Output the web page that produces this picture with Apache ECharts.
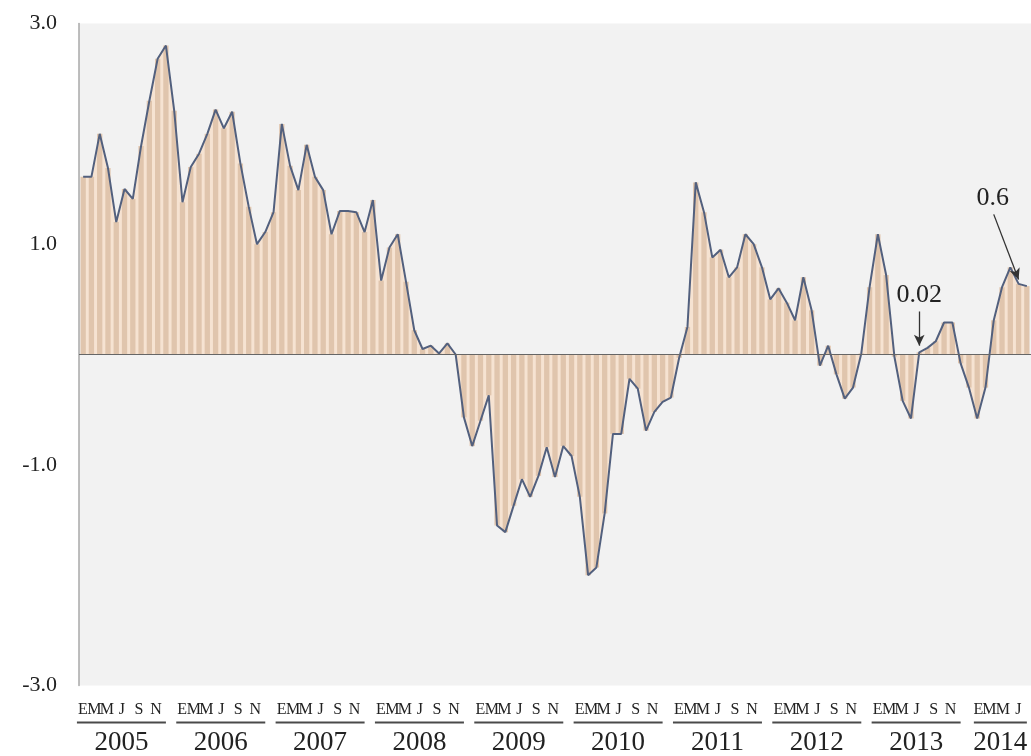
<!DOCTYPE html>
<html><head><meta charset="utf-8">
<script src="https://cdn.jsdelivr.net/npm/echarts@6/dist/echarts.min.js"></script>
<style>html,body{margin:0;padding:0;background:#fff}#c{width:1031px;height:756px}</style>
</head><body><div id="c"></div>
<script>
// ---- data ----
const years = ['2005','2006','2007','2008','2009','2010','2011','2012','2013','2014'];
const monthTickLetters = ['E','M','M','J','S','N'];
const yTicks = [-3, -1, 1, 3];
const v2005 = [1.61, 1.61, 2.00, 1.69, 1.20, 1.50, 1.41, 1.89, 2.30, 2.68, 2.80, 2.21];
const v2006 = [1.38, 1.70, 1.82, 2.00, 2.22, 2.05, 2.20, 1.73, 1.34, 1.00, 1.11, 1.29];
const v2007 = [2.09, 1.71, 1.49, 1.90, 1.61, 1.49, 1.09, 1.30, 1.30, 1.29, 1.11, 1.40];
const v2008 = [0.67, 0.97, 1.09, 0.66, 0.22, 0.05, 0.08, 0.01, 0.10, 0.00, -0.57, -0.83];
const v2009 = [-0.60, -0.37, -1.55, -1.61, -1.37, -1.13, -1.29, -1.10, -0.84, -1.11, -0.83, -0.92];
const v2010 = [-1.29, -2.00, -1.93, -1.44, -0.72, -0.72, -0.22, -0.31, -0.69, -0.52, -0.43, -0.39];
const v2011 = [-0.03, 0.25, 1.56, 1.29, 0.88, 0.95, 0.70, 0.79, 1.09, 1.00, 0.79, 0.50];
const v2012 = [0.60, 0.47, 0.31, 0.70, 0.40, -0.10, 0.08, -0.18, -0.40, -0.30, 0.01, 0.61];
const v2013 = [1.09, 0.72, -0.02, -0.42, -0.58, 0.02, 0.06, 0.12, 0.29, 0.29, -0.08, -0.30];
const v2014 = [-0.58, -0.30, 0.31, 0.61, 0.79, 0.64, 0.62];
// annotations: text, arrow start (month index, value), arrow end (month index, value)
const annoText = ['0.02', '0.6'];
const annoStart = [[101, 0.39], [110, 1.27]];
const annoEnd = [[101, 0.08], [113, 0.68]];

// ---- build ----
const perYear = [v2005, v2006, v2007, v2008, v2009, v2010, v2011, v2012, v2013, v2014];
const values = [].concat(...perYear);
const cats = [];
perYear.forEach((arr, yi) => arr.forEach((_, m) => cats.push(years[yi] + '-' + String(m + 1).padStart(2, '0'))));
const lastIdx = cats.length - 1;

function isLabelIdx(i) {
  return (i % 12 === 10) || i === lastIdx;
}
const serif = 'Liberation Serif, Times New Roman, serif';
const letterStyle = (w) => ({ width: w, align: 'center', fontSize: 16, lineHeight: 24, fontFamily: serif, color: '#222' });
const rich = {
  e: letterStyle(12), m1: letterStyle(11), m2: letterStyle(14), j: letterStyle(16), s: letterStyle(18), n: letterStyle(16),
  p: { width: 2, align: 'center', fontSize: 15, lineHeight: 24 },
  ul: { width: 89, height: 2, lineHeight: 2, fontSize: 1, align: 'center', backgroundColor: '#4a4a4a' },
  y: { width: 89, align: 'center', fontSize: 27, lineHeight: 38, fontFamily: serif, color: '#222' },
  e4: letterStyle(9), m14: letterStyle(13), m24: letterStyle(14), j4: letterStyle(17),
  ul4: { width: 53, height: 2, lineHeight: 2, fontSize: 1, align: 'center', backgroundColor: '#4a4a4a' },
  y4: { width: 53, align: 'center', fontSize: 27, lineHeight: 38, fontFamily: serif, color: '#222' }
};
const L = monthTickLetters;
function xLabel(val, idx) {
  if (!isLabelIdx(idx)) return '';
  const yr = years[Math.floor(idx / 12)];
  if (idx % 12 === 10) {
    return `{e|${L[0]}}{m1|${L[1]}}{m2|${L[2]}}{j|${L[3]}}{s|${L[4]}}{n|${L[5]}}{p| }\n{ul| }\n{y|${yr}}`;
  }
  return `{e4|${L[0]}}{m14|${L[1]}}{m24|${L[2]}}{j4|${L[3]}}\n{ul4| }\n{y4|${yr}}`;
}

const annoLines = annoText.map((t, k) => [
  { name: t, coord: [cats[annoStart[k][0]], annoStart[k][1]], symbol: 'none' },
  { coord: [cats[annoEnd[k][0]], annoEnd[k][1]], symbol: 'arrow', symbolSize: [8, 11] }
]);

const chart = echarts.init(document.getElementById('c'), null, { renderer: 'canvas' });
chart.setOption({
  animation: false,
  backgroundColor: '#ffffff',
  grid: { left: 79, right: 0, top: 23.5, bottom: 70, show: true, backgroundColor: '#f2f2f2', borderWidth: 0 },
  xAxis: {
    type: 'category', data: cats, boundaryGap: true,
    axisLine: { show: false }, axisTick: { show: false }, splitLine: { show: false },
    axisLabel: { interval: (i) => isLabelIdx(i), formatter: xLabel, align: 'right', margin: 12, rich: rich, hideOverlap: false }
  },
  yAxis: {
    type: 'value', min: yTicks[0], max: yTicks[yTicks.length - 1], interval: 2,
    axisLine: { show: true, lineStyle: { color: '#a8a8a8', width: 1.5 } },
    axisTick: { show: false }, splitLine: { show: false },
    axisLabel: { formatter: (v) => v.toFixed(1), fontFamily: serif, fontSize: 22, color: '#222', margin: 22 }
  },
  series: [
    {
      type: 'line', data: values, symbol: 'none', z: 1,
      lineStyle: { width: 0, opacity: 0 },
      areaStyle: { color: '#f6e3d2', opacity: 1 },
      silent: true,
      markLine: {
        silent: true, symbol: ['none', 'arrow'], animation: false,
        lineStyle: { color: '#333', width: 1.3, type: 'solid' },
        label: { show: true, position: 'start', formatter: (p) => p.name, fontFamily: serif, fontSize: 26, color: '#222', distance: 3 },
        data: annoLines
      }
    },
    {
      type: 'bar', data: values, barWidth: '64%', z: 2, silent: true,
      itemStyle: { color: '#e0c5ad' }
    },
    {
      type: 'line', data: values, symbol: 'none', z: 3, silent: true,
      lineStyle: { color: '#52607e', width: 2 },
      markLine: {
        silent: true, symbol: ['none', 'none'], animation: false,
        lineStyle: { color: '#666', width: 1.2, type: 'solid' },
        label: { show: false },
        data: [{ yAxis: 0 }]
      }
    }
  ]
});
</script>
</body></html>
